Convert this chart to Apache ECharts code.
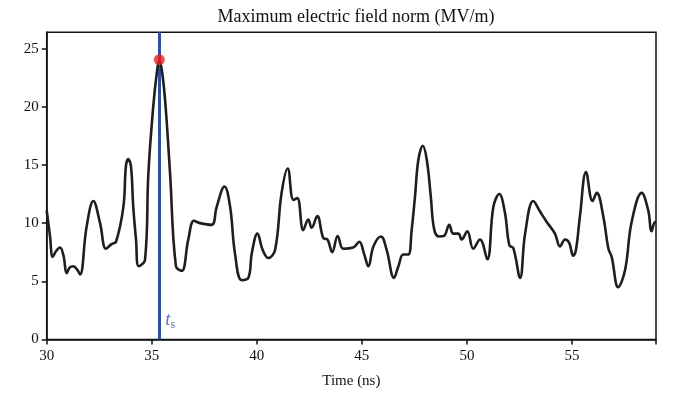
<!DOCTYPE html>
<html>
<head>
<meta charset="utf-8">
<script src="https://cdn.jsdelivr.net/npm/echarts@6/dist/echarts.min.js"></script>
<style>
  html, body { margin: 0; padding: 0; background: #fff; }
  #chart { width: 675px; height: 405px; }
</style>
</head>
<body>
<div id="chart"></div>
<script>
// time (ns) / field (MV/m)
const times = [30.0, 30.15, 30.29, 30.45, 30.63, 30.8, 30.95, 31.1, 31.27, 31.45, 31.59, 31.9, 32.22, 32.54, 32.82, 33.09, 33.3, 33.65, 33.77, 33.88, 34.01, 34.12, 34.25, 34.38, 34.68, 34.84, 35.07, 35.24, 35.36, 35.5, 35.66, 35.87, 36.15, 36.43, 36.74, 37.01, 37.3, 37.85, 38.09, 38.46, 38.73, 38.96, 39.28, 39.6, 39.76, 40.03, 40.28, 40.55, 40.87, 41.18, 41.47, 41.74, 41.93, 42.21, 42.45, 42.61, 42.88, 43.17, 43.36, 43.59, 43.85, 44.12, 44.59, 44.88, 45.1, 45.31, 45.55, 45.91, 46.18, 46.53, 46.74, 46.97, 47.21, 47.37, 47.53, 47.69, 47.9, 48.09, 48.28, 48.45, 48.69, 48.91, 49.16, 49.35, 49.59, 49.75, 50.02, 50.3, 50.62, 50.97, 51.26, 51.54, 51.81, 52.02, 52.21, 52.53, 52.77, 53.16, 53.48, 53.8, 54.19, 54.43, 54.67, 54.87, 55.06, 55.19, 55.38, 55.67, 55.98, 56.18, 56.49, 56.73, 56.89, 57.2, 57.53, 57.84, 58.32, 58.63, 58.79, 58.95, 59.0];
const fieldNorm = [11.1, 9.0, 7.1, 7.6, 7.9, 7.2, 5.7, 6.2, 6.3, 6.0, 5.6, 9.7, 11.9, 10.0, 7.8, 8.2, 8.4, 11.4, 14.9, 15.5, 14.9, 11.4, 8.6, 6.3, 6.85, 14.3, 20.0, 22.9, 24.05, 22.9, 20.0, 14.3, 6.3, 5.9, 8.6, 10.2, 10.0, 9.85, 11.4, 13.15, 11.4, 7.4, 5.1, 5.3, 7.4, 9.1, 7.7, 7.0, 7.7, 12.6, 14.7, 12.0, 12.15, 9.4, 10.3, 9.6, 10.6, 8.7, 8.6, 7.5, 8.9, 7.8, 7.9, 8.4, 7.4, 6.3, 8.0, 8.85, 7.7, 5.3, 6.3, 7.3, 7.3, 9.4, 12.3, 15.45, 16.65, 15.45, 12.3, 9.4, 8.85, 8.9, 9.85, 9.1, 9.1, 8.6, 9.3, 7.8, 8.6, 6.9, 11.4, 12.5, 10.9, 8.1, 7.85, 5.3, 9.1, 11.9, 11.0, 10.1, 9.1, 8.0, 8.6, 8.3, 7.2, 7.7, 10.6, 14.4, 11.9, 12.6, 10.6, 7.85, 7.1, 4.5, 6.0, 10.1, 12.6, 11.1, 9.3, 10.1, 10.1];
const tS = 35.36;
const peakValue = 24.05;
const xTicks = [30, 35, 40, 45, 50, 55];
const yTicks = [0, 5, 10, 15, 20, 25];

const serif = '"Liberation Serif", "DejaVu Serif", serif';
const chart = echarts.init(document.getElementById('chart'));

chart.setOption({
  animation: false,
  textStyle: { fontFamily: serif },
  title: {
    text: 'Maximum electric field norm (MV/m)',
    left: 351,
    textAlign: 'center',
    top: 3,
    textStyle: { fontFamily: serif, fontSize: 18, fontWeight: 'normal', color: '#111' },
  },
  grid: {
    left: 46.7,
    right: 19,
    top: 32.3,
    bottom: 65.5,
    show: true,
    borderColor: '#111',
    borderWidth: 1.5,
  },
  xAxis: {
    type: 'value',
    min: 30,
    max: 59,
    interval: 5,
    name: 'Time (ns)',
    nameLocation: 'center',
    nameGap: 34,
    nameTextStyle: { fontFamily: serif, fontSize: 15, color: '#111' },
    splitLine: { show: false },
    axisLine: { lineStyle: { color: '#111', width: 1.5 } },
    axisTick: { inside: false, length: 5, lineStyle: { color: '#111', width: 1.5 } },
    axisLabel: {
      fontFamily: serif, fontSize: 15, color: '#111', margin: 9,
      formatter: v => xTicks.includes(v) ? String(v) : '',
    },
  },
  yAxis: {
    type: 'value',
    min: 0,
    max: 26.4,
    interval: 5,
    splitLine: { show: false },
    axisLine: { show: true, lineStyle: { color: '#111', width: 1.5 } },
    axisTick: { show: true, inside: false, length: 5, lineStyle: { color: '#111', width: 1.5 } },
    axisLabel: {
      fontFamily: serif, fontSize: 15, color: '#111', margin: 8,
      showMaxLabel: false,
      formatter: v => yTicks.includes(v) ? String(v) : '',
    },
  },
  series: [
    {
      type: 'line',
      data: times.map((t, i) => [t, fieldNorm[i]]),
      showSymbol: false,
      smooth: 0.4,
      lineStyle: { color: '#1e1e1e', width: 2.6 },
      z: 3,
      markLine: {
        silent: true,
        symbol: 'none',
        label: { show: false },
        lineStyle: { color: '#2c4ea3', width: 3, type: 'solid' },
        data: [{ xAxis: tS }],
        z: 2,
      },
    },
    {
      type: 'scatter',
      data: [[tS, peakValue]],
      symbolSize: 11,
      itemStyle: { color: '#ee2222' },
      z: 5,
    },
    {
      type: 'scatter',
      data: [[tS, 1.7]],
      symbolSize: 0,
      label: {
        show: true,
        position: 'right',
        distance: 6,
        formatter: '{t|t}{s|s}',
        rich: {
          t: { fontFamily: serif, fontStyle: 'italic', fontSize: 19, color: '#2c4ea3' },
          s: { fontFamily: serif, fontSize: 12, color: '#2c4ea3', verticalAlign: 'bottom', padding: [10, 0, 0, 0] },
        },
      },
      z: 4,
    },
  ],
});
</script>
</body>
</html>
